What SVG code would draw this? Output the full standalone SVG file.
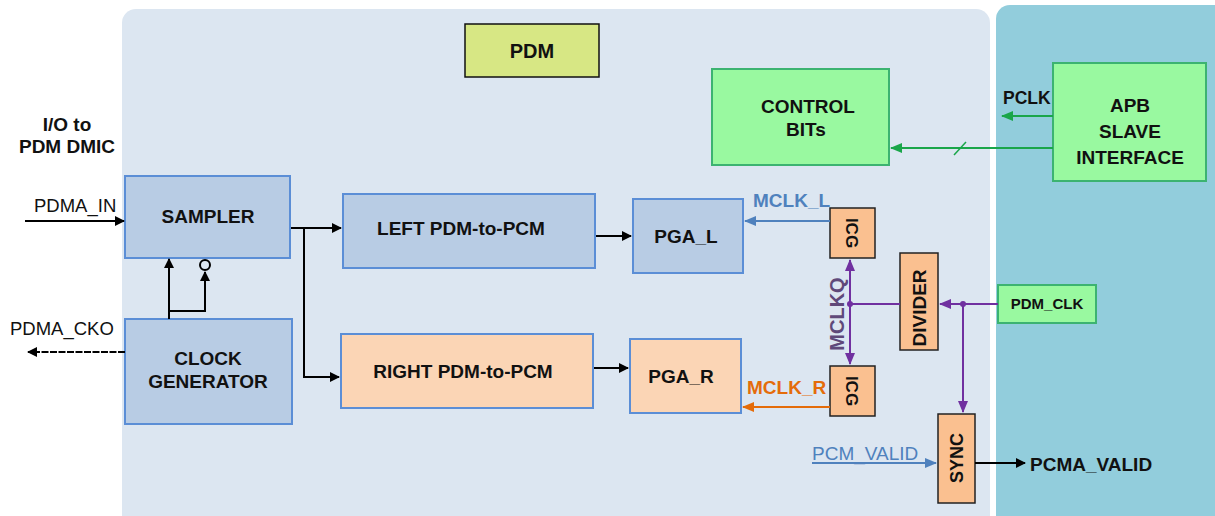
<svg xmlns="http://www.w3.org/2000/svg" width="1215" height="516" viewBox="0 0 1215 516">
<defs>
<style>
text{font-family:"Liberation Sans",Arial,sans-serif;font-weight:bold;fill:#111;font-size:19px;}
.reg{font-weight:normal;}
.blue{fill:#b8cce4;stroke:#5b8ed6;stroke-width:2;}
.peach{fill:#fbd5b5;stroke:#5b8ed6;stroke-width:2;}
.org{fill:#fac090;stroke:#222;stroke-width:1.5;}
.grn{fill:#99f9a0;stroke:#3cb371;stroke-width:2;}
.k{stroke:#000;stroke-width:2;fill:none;}
.p{stroke:#7030a0;stroke-width:2;fill:none;}
</style>
<marker id="ak" markerWidth="10" markerHeight="10" refX="9" refY="5" orient="auto" markerUnits="userSpaceOnUse"><path d="M0,0 L10,5 L0,10 z" fill="#000"/></marker>
<marker id="ag" markerWidth="12" markerHeight="10" refX="11" refY="5" orient="auto" markerUnits="userSpaceOnUse"><path d="M0,0 L12,5 L0,10 z" fill="#1aa64a"/></marker>
<marker id="ab" markerWidth="12" markerHeight="10" refX="11" refY="5" orient="auto" markerUnits="userSpaceOnUse"><path d="M0,0 L12,5 L0,10 z" fill="#4f81bd"/></marker>
<marker id="ao" markerWidth="12" markerHeight="10" refX="11" refY="5" orient="auto" markerUnits="userSpaceOnUse"><path d="M0,0 L12,5 L0,10 z" fill="#e46c0a"/></marker>
<marker id="ap" markerWidth="12" markerHeight="10" refX="11" refY="5" orient="auto" markerUnits="userSpaceOnUse"><path d="M0,0 L12,5 L0,10 z" fill="#7030a0"/></marker>
</defs>
<rect width="1215" height="516" fill="#fff"/>
<g id="panels">
<rect x="122" y="9" width="868" height="520" rx="14" fill="#dce6f1"/>
<rect x="996" y="5" width="240" height="530" rx="14" fill="#92cddc"/>
</g>
<g id="labels">
<text x="67" y="131" text-anchor="middle">I/O to</text>
<text x="67" y="153" text-anchor="middle">PDM DMIC</text>
<text x="34" y="212" class="reg" style="font-size:18.5px">PDMA_IN</text>
<text x="10" y="335" class="reg" style="font-size:18.5px">PDMA_CKO</text>
<text x="1003" y="104" style="font-size:17.5px">PCLK</text>
<text x="753" y="207" style="fill:#4f81bd">MCLK_L</text>
<text x="747" y="394" style="fill:#e46c0a">MCLK_R</text>
<text x="844" y="314" text-anchor="middle" transform="rotate(-90 844 314)" style="fill:#5f497a;font-size:20px">MCLKQ</text>
<text x="812" y="460" class="reg" style="fill:#4f81bd">PCM_VALID</text>
<text x="1030" y="471">PCMA_VALID</text>
</g>
<g id="pdm"><rect x="465" y="24" width="134" height="53" fill="#d7e784" stroke="#111" stroke-width="1.5"/><text x="532" y="58" text-anchor="middle" style="font-size:20px">PDM</text></g>
<g id="control"><rect x="712" y="69" width="177" height="96" class="grn"/><text x="808" y="113" text-anchor="middle">CONTROL</text><text x="806" y="136" text-anchor="middle">BITs</text></g>
<g id="apb"><rect x="1053" y="63" width="153" height="118" class="grn"/><text x="1130" y="112" text-anchor="middle">APB</text><text x="1130" y="138" text-anchor="middle">SLAVE</text><text x="1130" y="164" text-anchor="middle">INTERFACE</text></g>
<g id="sampler"><rect x="125" y="176" width="165" height="82" class="blue"/><text x="208" y="223" text-anchor="middle">SAMPLER</text></g>
<g id="clockgen"><rect x="125" y="319" width="167" height="105" class="blue"/><text x="208" y="365" text-anchor="middle">CLOCK</text><text x="208" y="388" text-anchor="middle">GENERATOR</text></g>
<g id="left"><rect x="343" y="194" width="252" height="74" class="blue"/><text x="461" y="235" text-anchor="middle">LEFT PDM-to-PCM</text></g>
<g id="right"><rect x="341" y="334" width="252" height="74" class="peach"/><text x="463" y="378" text-anchor="middle">RIGHT PDM-to-PCM</text></g>
<g id="pgal"><rect x="633" y="199" width="110" height="74" class="blue"/><text x="686" y="243" text-anchor="middle">PGA_L</text></g>
<g id="pgar"><rect x="630" y="339" width="111" height="74" class="peach"/><text x="681" y="383" text-anchor="middle">PGA_R</text></g>
<g id="icgl"><rect x="830" y="208" width="45" height="50" class="org"/><text x="846" y="233" text-anchor="middle" transform="rotate(90 846 233)" style="font-size:17px">ICG</text></g>
<g id="icgr"><rect x="830" y="366" width="45" height="50" class="org"/><text x="846" y="391" text-anchor="middle" transform="rotate(90 846 391)" style="font-size:17px">ICG</text></g>
<g id="divider"><rect x="900" y="253" width="38" height="97" class="org"/><text x="926" y="308" text-anchor="middle" transform="rotate(-90 926 308)">DIVIDER</text></g>
<g id="pdmclk"><rect x="998" y="285" width="98" height="38" class="grn"/><text x="1047" y="309" text-anchor="middle" style="font-size:15px">PDM_CLK</text></g>
<g id="sync"><rect x="938" y="414" width="37" height="89" class="org"/><text x="963" y="458" text-anchor="middle" transform="rotate(-90 963 458)" style="font-size:18px">SYNC</text></g>
<g id="connectors">
<line x1="25" y1="221" x2="124" y2="221" class="k" marker-end="url(#ak)"/>
<line x1="125" y1="352" x2="28" y2="352" class="k" stroke-dasharray="7,1.5" marker-end="url(#ak)"/>
<line x1="291" y1="228" x2="341" y2="228" class="k" marker-end="url(#ak)"/>
<polyline points="304,228 304,377 339,377" class="k" marker-end="url(#ak)"/>
<line x1="169" y1="319" x2="169" y2="259" class="k" marker-end="url(#ak)"/>
<polyline points="169,311 205,311 205,272" class="k" marker-end="url(#ak)"/>
<circle cx="205" cy="265" r="5" fill="none" stroke="#000" stroke-width="2"/>
<line x1="596" y1="236" x2="631" y2="236" class="k" stroke-width="1.5" marker-end="url(#ak)"/>
<line x1="594" y1="368" x2="628" y2="368" class="k" stroke-width="1.5" marker-end="url(#ak)"/>
<line x1="1053" y1="116" x2="1002" y2="116" stroke="#1aa64a" stroke-width="2" marker-end="url(#ag)"/>
<line x1="1053" y1="148" x2="891" y2="148" stroke="#1aa64a" stroke-width="2" marker-end="url(#ag)"/>
<line x1="954" y1="155" x2="966" y2="142" stroke="#1aa64a" stroke-width="1.5"/>
<line x1="830" y1="221" x2="745" y2="221" stroke="#4f81bd" stroke-width="2" marker-end="url(#ab)"/>
<line x1="830" y1="407" x2="743" y2="407" stroke="#e46c0a" stroke-width="2" marker-end="url(#ao)"/>
<line x1="850" y1="304" x2="850" y2="260" class="p" marker-end="url(#ap)"/>
<line x1="850" y1="304" x2="850" y2="364" class="p" marker-end="url(#ap)"/>
<line x1="850" y1="304" x2="900" y2="304" class="p"/>
<circle cx="850" cy="304" r="3" fill="#7030a0"/>
<line x1="998" y1="304" x2="940" y2="304" class="p" marker-end="url(#ap)"/>
<line x1="963" y1="304" x2="963" y2="412" class="p" marker-end="url(#ap)"/>
<circle cx="963" cy="304" r="3" fill="#7030a0"/>
<line x1="812" y1="463" x2="936" y2="463" stroke="#4f81bd" stroke-width="2" marker-end="url(#ab)"/>
<line x1="975" y1="463" x2="1025" y2="463" class="k" marker-end="url(#ak)"/>
</g>
</svg>
